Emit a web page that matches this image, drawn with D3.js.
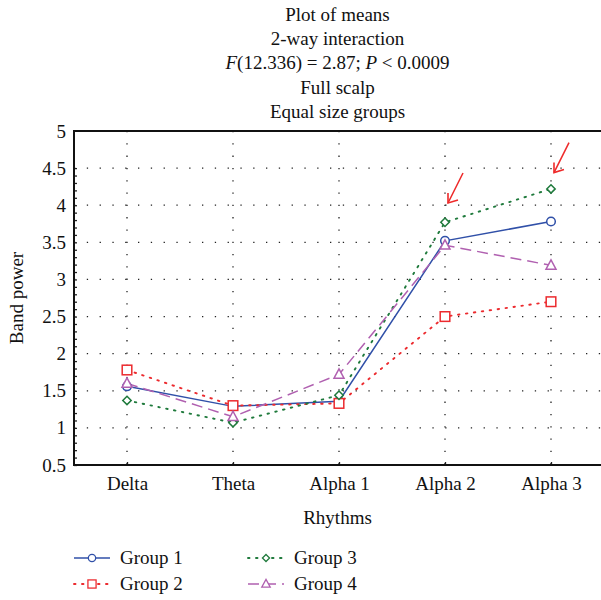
<!DOCTYPE html>
<html>
<head>
<meta charset="utf-8">
<script src="https://cdn.jsdelivr.net/npm/d3@7"></script>
<style>
  body { margin: 0; background: #fff; }
  text { font-family: "Liberation Serif", "DejaVu Serif", serif; fill: #111; }
</style>
</head>
<body>
<svg id="chart" width="601" height="600"></svg>
<script>
// data
const rhythms = ["Delta", "Theta", "Alpha 1", "Alpha 2", "Alpha 3"];
const group1 = [1.56, 1.29, 1.36, 3.52, 3.78];
const group2 = [1.78, 1.30, 1.33, 2.50, 2.70];
const group3 = [1.37, 1.07, 1.44, 3.77, 4.22];
const group4 = [1.60, 1.15, 1.72, 3.46, 3.19];
const yTicks = [0.5, 1, 1.5, 2, 2.5, 3, 3.5, 4, 4.5, 5];
// arrow tips (category, value)
const arrowCats = ["Alpha 2", "Alpha 3"];
const arrowVals = [4.03, 4.44];

const series = [
  { name: "Group 1", values: group1, color: "#3050a8", dash: null, marker: "circle" },
  { name: "Group 2", values: group2, color: "#ec2a2e", dash: "1.5,6.5", marker: "square" },
  { name: "Group 3", values: group3, color: "#1f7a3c", dash: "1.5,6.5", marker: "diamond" },
  { name: "Group 4", values: group4, color: "#b060b0", dash: "11,6", marker: "triangle" }
];

const W = 601, H = 600;
const m = { left: 74, top: 131, right: 604, bottom: 465 };
const fs = 19;

const svg = d3.select("#chart");

const x = d3.scalePoint()
  .domain(rhythms)
  .range([m.left, m.right])
  .padding(0.5);

const y = d3.scaleLinear()
  .domain([0.5, 5])
  .range([m.bottom, m.top]);

// title
const titleLines = ["Plot of means", "2-way interaction", null, "Full scalp", "Equal size groups"];
const cx = (m.left + W) / 2;
titleLines.forEach((t, i) => {
  const tx = svg.append("text")
    .attr("x", cx)
    .attr("y", 21 + i * 24.2)
    .attr("text-anchor", "middle")
    .attr("font-size", fs);
  if (t) { tx.text(t); return; }
  tx.append("tspan").attr("font-style", "italic").text("F");
  tx.append("tspan").text("(12.336) = 2.87; ");
  tx.append("tspan").attr("font-style", "italic").text("P");
  tx.append("tspan").text(" < 0.0009");
});

// grid
svg.append("g")
  .selectAll("line")
  .data(yTicks.slice(1, -1))
  .join("line")
  .attr("x1", m.left).attr("x2", W)
  .attr("y1", d => y(d)).attr("y2", d => y(d))
  .attr("stroke", "#222")
  .attr("stroke-width", 1.3)
  .attr("stroke-dasharray", "1.3,11.5");

svg.append("g")
  .selectAll("line")
  .data(rhythms)
  .join("line")
  .attr("x1", d => x(d)).attr("x2", d => x(d))
  .attr("y1", m.top).attr("y2", m.bottom)
  .attr("stroke", "#222")
  .attr("stroke-width", 1.3)
  .attr("stroke-dasharray", "1.3,11");

// axes
const yAxis = svg.append("g")
  .attr("transform", `translate(${m.left},0)`)
  .call(d3.axisLeft(y).tickValues(yTicks).tickSize(0).tickPadding(8).tickFormat(d3.format("")));
yAxis.select(".domain").remove();
yAxis.selectAll("text").attr("font-size", fs).attr("font-family", "Liberation Serif, serif").attr("fill", "#111");

const minor = svg.append("g")
  .attr("transform", `translate(${m.left},0)`)
  .call(d3.axisLeft(y).tickValues(d3.range(5, 46).map(v => v / 10)).tickSize(-3).tickFormat(""));
minor.select(".domain").remove();
minor.selectAll("line").attr("stroke", "#222").attr("stroke-width", 1.3);

const xAxis = svg.append("g")
  .attr("transform", `translate(0,${m.bottom})`)
  .call(d3.axisBottom(x).tickSize(-3).tickPadding(12));
xAxis.select(".domain").remove();
xAxis.selectAll("line").attr("stroke", "#222").attr("stroke-width", 1.3);
xAxis.selectAll("text").attr("font-size", fs).attr("font-family", "Liberation Serif, serif").attr("fill", "#111");

// frame
svg.append("path")
  .attr("d", `M${W},${m.top}H${m.left}V${m.bottom}H${W}`)
  .attr("fill", "none")
  .attr("stroke", "#111")
  .attr("stroke-width", 2);

// axis titles
svg.append("text")
  .attr("x", cx).attr("y", 524)
  .attr("text-anchor", "middle")
  .attr("font-size", fs)
  .text("Rhythms");
svg.append("text")
  .attr("transform", `translate(23,${(m.top + m.bottom) / 2}) rotate(-90)`)
  .attr("text-anchor", "middle")
  .attr("font-size", fs)
  .text("Band power");

// markers
function drawMarker(g, type, color) {
  if (type === "circle") g.append("circle").attr("r", 4.3);
  else if (type === "square") g.append("rect").attr("x", -4.8).attr("y", -4.8).attr("width", 9.6).attr("height", 9.6);
  else if (type === "diamond") g.append("path").attr("d", "M0,-4.2L4.2,0L0,4.2L-4.2,0Z");
  else g.append("path").attr("d", "M0,-5.5L5,3.8L-5,3.8Z");
  g.selectAll("*").attr("fill", "#fff").attr("stroke", color).attr("stroke-width", 1.5);
}

const line = d3.line()
  .x((d, i) => x(rhythms[i]))
  .y(d => y(d));

function styleLine(sel, s) {
  const dotted = s.dash && s.dash.startsWith("1.5");
  sel.attr("stroke", s.color)
    .attr("stroke-width", dotted ? 1.9 : 1.5)
    .attr("stroke-linecap", dotted ? "round" : "butt")
    .attr("stroke-dasharray", s.dash);
}

series.forEach(s => {
  svg.append("path")
    .datum(s.values)
    .attr("d", line)
    .attr("fill", "none")
    .call(styleLine, s);
});
series.forEach(s => {
  s.values.forEach((v, i) => {
    const g = svg.append("g").attr("transform", `translate(${x(rhythms[i])},${y(v)})`);
    drawMarker(g, s.marker, s.color);
  });
});

// red arrows
arrowCats.forEach((c, i) => {
  const tx = x(c) + 3, ty = y(arrowVals[i]);
  const ex = tx + 15, ey = ty - 30;
  const a = svg.append("g").attr("stroke", "#ee2a2a").attr("stroke-width", 1.6).attr("fill", "none");
  a.append("line").attr("x1", ex).attr("y1", ey).attr("x2", tx).attr("y2", ty);
  a.append("path").attr("d", `M${tx},${ty - 10}L${tx},${ty}L${tx + 10},${ty - 3}`);
});

// legend
const legX = [74, 248];
const legY = [558, 584];
series.forEach((s, i) => {
  const col = Math.floor(i / 2), row = i % 2;
  const g = svg.append("g").attr("transform", `translate(${legX[col]},${legY[row]})`);
  g.append("line")
    .attr("x1", 0).attr("x2", 36)
    .call(styleLine, s);
  const mk = g.append("g").attr("transform", "translate(18,0) scale(0.85)");
  drawMarker(mk, s.marker, s.color);
  g.append("text")
    .attr("x", 46).attr("y", 6)
    .attr("font-size", fs)
    .text(s.name);
});
</script>
</body>
</html>
